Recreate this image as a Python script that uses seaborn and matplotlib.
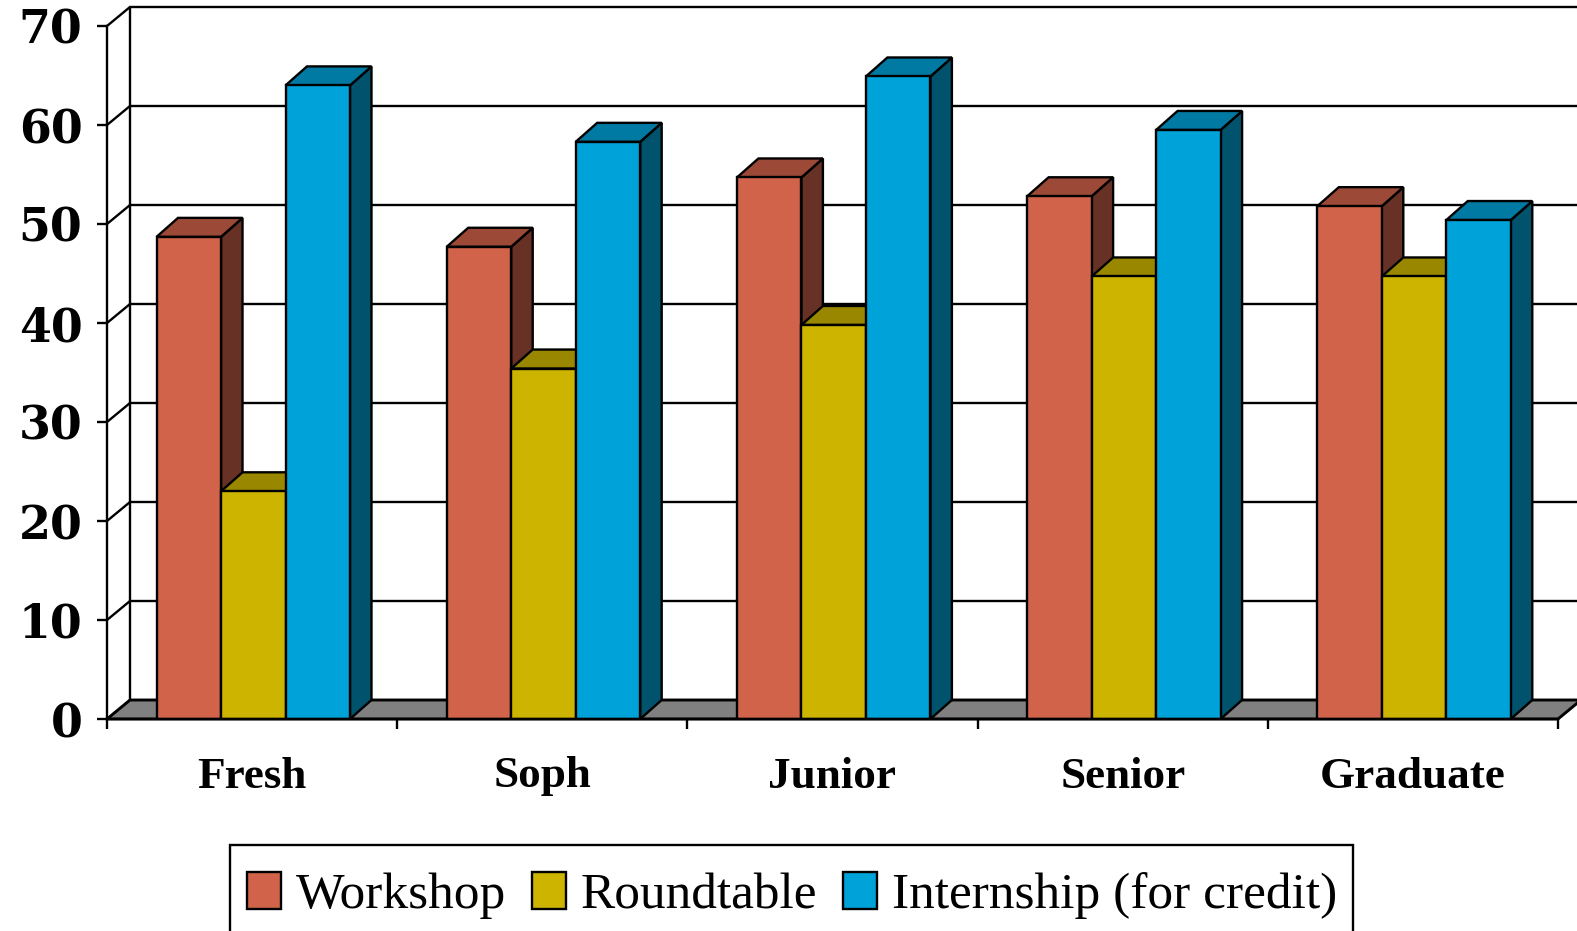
import numpy as np
import pandas as pd
import seaborn as sns
import matplotlib.pyplot as plt
from matplotlib.patches import Polygon, Rectangle

years = ["Fresh", "Soph", "Junior", "Senior", "Graduate"]
workshop = [48.7, 47.7, 54.7, 52.8, 51.8]
roundtable = [23.0, 35.4, 39.8, 44.7, 44.7]
internship = [64.0, 58.3, 64.9, 59.5, 50.4]
series = ["Workshop", "Roundtable", "Internship (for credit)"]
y_ticks = [0, 10, 20, 30, 40, 50, 60, 70]

front = ["#D0634A", "#CCB400", "#00A3D9"]
top = ["#9C4A37", "#998700", "#007AA3"]
side = ["#683125", "#665A00", "#00526D"]

W, H = 1577, 931
DX = 23 / 290.2  # depth of the fake 3d, in category units
BAR_DX = 21.5 / 290.2  # bars are a bit less deep than the wall offset
DY = 19 / 9.9    # same, in y units
LW = 1.7

df = pd.DataFrame({
    "year": years * 3,
    "series": np.repeat(series, len(years)),
    "value": workshop + roundtable + internship,
})

sns.set_theme(style="white")
plt.rcParams["font.family"] = ["Liberation Serif", "DejaVu Serif"]
plt.rcParams["text.color"] = "black"
plt.rcParams["xtick.labelcolor"] = "black"
plt.rcParams["ytick.labelcolor"] = "black"

fig = plt.figure(figsize=(W / 100, H / 100), dpi=100)
ax = fig.add_axes([107 / W, 1 - 719 / H, (1558 - 107) / W, (719 - 26) / H])
ax.patch.set_alpha(0)

sns.barplot(data=df, x="year", y="value", hue="series", hue_order=series,
            palette=front, saturation=1, width=2 / 3, edgecolor="black",
            linewidth=LW, ax=ax)
ax.set_xlim(-0.5, 4.5)
ax.set_ylim(0, 70)
ax.set_xlabel("")
ax.set_ylabel("")

# floor and back wall
ax.add_patch(Polygon([(-0.5, 0), (-0.5 + DX, DY), (4.5 + DX, DY), (4.5, 0)],
                     facecolor="#808080", edgecolor="black", lw=LW + 0.4,
                     clip_on=False, zorder=1))
for v in y_ticks[1:]:
    ax.plot([-0.5, -0.5 + DX, 4.5 + DX], [v, v + DY, v + DY], color="black",
            lw=LW, clip_on=False, zorder=1.5, solid_joinstyle="miter")
ax.plot([-0.5 + DX] * 2, [DY, 70 + DY], color="black", lw=LW, clip_on=False, zorder=1.5)

# sides and tops of the bars, drawn from the seaborn bars
for i, bars in enumerate(ax.containers):
    z = 3 + i
    for bar in bars:
        bar.set_x(bar.get_x() + 0.004)
        x0, x1, h = bar.get_x(), bar.get_x() + bar.get_width(), bar.get_height()
        bar.set_zorder(z + 0.5)
        ax.add_patch(Polygon([(x1, 0), (x1 + BAR_DX, DY), (x1 + BAR_DX, h + DY), (x1, h)],
                             facecolor=side[i], edgecolor="black", lw=LW,
                             clip_on=False, zorder=z))
        ax.add_patch(Polygon([(x0, h), (x0 + BAR_DX, h + DY), (x1 + BAR_DX, h + DY), (x1, h)],
                             facecolor=top[i], edgecolor="black", lw=LW,
                             clip_on=False, zorder=z))

for s in ["top", "right"]:
    ax.spines[s].set_visible(False)
for s in ["left", "bottom"]:
    ax.spines[s].set_color("black")
    ax.spines[s].set_linewidth(LW)
    ax.spines[s].set_zorder(10)

ax.set_yticks(y_ticks)
ax.tick_params(axis="y", length=7.2, width=LW, color="black", left=True, pad=10.5)
for lab in ax.get_yticklabels():
    lab.set_fontfamily("DejaVu Serif")
    lab.set_fontweight("bold")
    lab.set_fontsize(33)

ax.set_xticks(np.arange(-0.5, 5), minor=True)
ax.tick_params(axis="x", which="minor", length=7.2, width=LW, color="black", bottom=True)
ax.tick_params(axis="x", which="major", length=0, pad=27)
for lab in ax.get_xticklabels():
    lab.set_fontweight("bold")
    lab.set_fontsize(32.5)

# legend box runs off the bottom of the picture
fig.add_artist(Rectangle((230 / W, 1 - 960 / H), (1353 - 230) / W, (960 - 845) / H,
                         transform=fig.transFigure, facecolor="white",
                         edgecolor="black", lw=LW, zorder=5))
leg = ax.legend(loc="upper left", bbox_to_anchor=(247 / W, 1 - 872 / H),
                bbox_transform=fig.transFigure, ncol=3, frameon=False, fontsize=37,
                borderpad=0, borderaxespad=0, handlelength=0.66, handleheight=0.72,
                handletextpad=0.29, columnspacing=0.5)
leg.set_zorder(20)
ax.set_zorder(6)

fig.savefig("out.png", dpi=100)
